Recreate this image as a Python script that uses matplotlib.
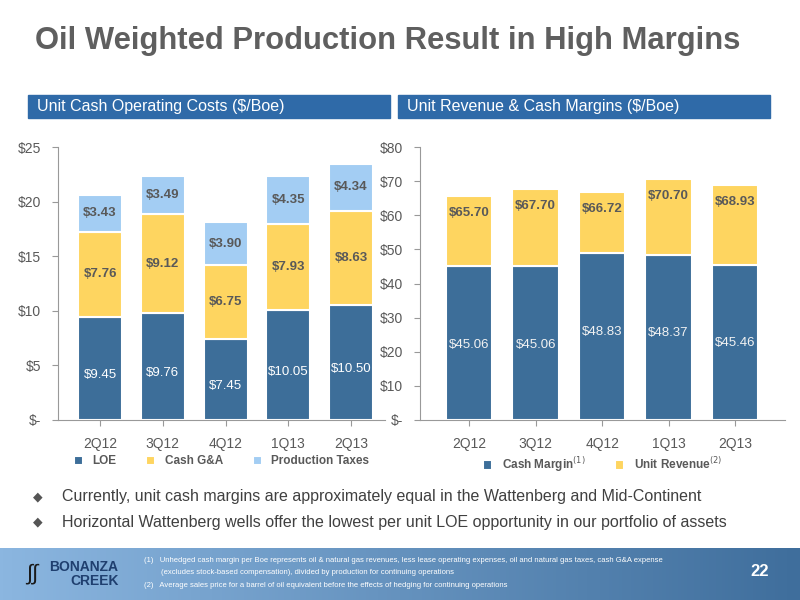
import matplotlib
matplotlib.use("Agg")
import matplotlib.pyplot as plt
import numpy as np
from matplotlib.patches import Rectangle
from matplotlib.colors import LinearSegmentedColormap

plt.rcParams['font.family'] = ['Liberation Sans', 'DejaVu Sans']

quarters = ["2Q12", "3Q12", "4Q12", "1Q13", "2Q13"]
loe = [9.45, 9.76, 7.45, 10.05, 10.50]
gna = [7.76, 9.12, 6.75, 7.93, 8.63]
taxes = [3.43, 3.49, 3.90, 4.35, 4.34]
cash_margin = [45.06, 45.06, 48.83, 48.37, 45.46]
unit_revenue = [65.70, 67.70, 66.72, 70.70, 68.93]

BLUE = "#3d6e99"
YEL = "#fed560"
LBLUE = "#a3cdf3"
GRAY = "#595959"

fig = plt.figure(figsize=(8, 6), dpi=100)
fig.text(0.044, 0.932, "Oil Weighted Production Result in High Margins", fontsize=22.3,
         fontweight="bold", color="#5f5f5f", ha="left", va="center")

for x0, x1, txt in [(28, 390, "Unit Cash Operating Costs ($/Boe)"),
                    (398, 770, "Unit Revenue & Cash Margins ($/Boe)")]:
    fig.patches.append(Rectangle((x0/800, 1-118/600), (x1-x0)/800, 23/600,
                                 transform=fig.transFigure, color="#2f6aa8"))
    fig.text((x0+9)/800, 1-106.5/600, txt, color="white", fontsize=11.5, va="center")

def style(ax):
    for s in ["top", "right"]:
        ax.spines[s].set_visible(False)
    ax.spines["left"].set_color("#999999")
    ax.spines["bottom"].set_color("#999999")
    ax.tick_params(colors="#999999", labelcolor=GRAY, labelsize=10, length=4)
    ax.tick_params(axis="x", pad=8)
    ax.tick_params(axis="y", pad=8)

W = 0.7
x = np.arange(5)
ax1 = fig.add_axes([58/800, 1-420/600, 327/800, 273/600])
style(ax1)
ax1.set_xlim(-0.67, 4.54)
b1 = np.array(loe); b2 = b1 + np.array(gna)
ax1.bar(x, loe, W, color=BLUE, edgecolor="white", linewidth=1.5, label="LOE")
ax1.bar(x, gna, W, bottom=b1, color=YEL, edgecolor="white", linewidth=1.5, label="Cash G&A")
ax1.bar(x, taxes, W, bottom=b2, color=LBLUE, edgecolor="white", linewidth=1.5, label="Production Taxes")
for i in range(5):
    ax1.text(x[i], loe[i]/2 - 0.6, f"${loe[i]:.2f}", ha="center", va="center", color="white", fontsize=9.5)
    ax1.text(x[i], b1[i] + gna[i]/2, f"${gna[i]:.2f}", ha="center", va="center", color=GRAY, fontsize=9.5, fontweight="bold")
    ax1.text(x[i], b2[i] + taxes[i]/2, f"${taxes[i]:.2f}", ha="center", va="center", color=GRAY, fontsize=9.5, fontweight="bold")
ax1.set_ylim(0, 25)
ax1.set_yticks([0, 5, 10, 15, 20, 25])
ax1.set_yticklabels(["$-", "$5", "$10", "$15", "$20", "$25"])
ax1.set_xticks(x); ax1.set_xticklabels(quarters)
ax1.legend(loc="upper center", bbox_to_anchor=(0.5, -0.09), ncol=3, frameon=False,
           handlelength=0.8, handleheight=0.8, columnspacing=2.5,
           labelcolor=GRAY, prop={"weight": "bold", "size": 8.5})

ax2 = fig.add_axes([420/800, 1-420/600, 365/800, 273/600])
style(ax2)
ax2.set_xlim(-0.74, 4.75)
rest = np.array(unit_revenue) - np.array(cash_margin)
ax2.bar(x, cash_margin, W, color=BLUE, edgecolor="white", linewidth=1.5, label="Cash Margin$^{(1)}$")
ax2.bar(x, rest, W, bottom=cash_margin, color=YEL, edgecolor="white", linewidth=1.5, label="Unit Revenue$^{(2)}$")
for i in range(5):
    ax2.text(x[i], cash_margin[i] - 23, f"${cash_margin[i]:.2f}", ha="center", va="center", color="#f2f2f2", fontsize=9.5)
    ax2.text(x[i], unit_revenue[i] - 5, f"${unit_revenue[i]:.2f}", ha="center", va="center", color=GRAY, fontsize=9.5, fontweight="bold")
ax2.set_ylim(0, 80)
ax2.set_yticks(range(0, 81, 10))
ax2.set_yticklabels(["$-"] + [f"${v}" for v in range(10, 81, 10)])
ax2.set_xticks(x); ax2.set_xticklabels(quarters)
ax2.legend(loc="upper center", bbox_to_anchor=(0.5, -0.09), ncol=2, frameon=False,
           handlelength=0.8, handleheight=0.8, columnspacing=2.5,
           labelcolor=GRAY, prop={"weight": "bold", "size": 8.5})

for y, t in [(497, "Currently, unit cash margins are approximately equal in the Wattenberg and Mid-Continent"),
             (522, "Horizontal Wattenberg wells offer the lowest per unit LOE opportunity in our portfolio of assets")]:
    fig.text(33/800, 1-y/600, "\u25C6", fontsize=9, color="#555555", va="center")
    fig.text(62/800, 1-y/600, t, fontsize=11.5, color="#404040", va="center")

grad = np.linspace(0, 1, 256).reshape(1, -1)
fax = fig.add_axes([0, 0, 1, 52/600])
cm = LinearSegmentedColormap.from_list("f", ["#8bb6e0", "#3f6e9c"])
fax.imshow(grad, aspect="auto", cmap=cm, extent=[0, 1, 0, 1])
fax.set_axis_off()
fax.text(0.148, 0.5, "BONANZA\nCREEK", fontsize=10, fontweight="bold", color="#1f3f6f",
         ha="right", va="center", linespacing=0.95, transform=fax.transAxes)
fax.text(0.04, 0.5, "\u222B\u222B", fontsize=16, color="#1a1a1a", ha="center", va="center", transform=fax.transAxes)
notes = ["(1)   Unhedged cash margin per Boe represents oil & natural gas revenues, less lease operating expenses, oil and natural gas taxes, cash G&A expense",
         "        (excludes stock-based compensation), divided by production for continuing operations",
         "(2)   Average sales price for a barrel of oil equivalent before the effects of hedging for continuing operations"]
for k, n in enumerate(notes):
    fax.text(0.18, 0.76 - k*0.24, n, fontsize=5.5, color="white", va="center", transform=fax.transAxes)
fax.text(0.95, 0.55, "22", fontsize=12, fontweight="bold", color="white", ha="center", va="center", transform=fax.transAxes)

fig.savefig("out.png", dpi=100)
